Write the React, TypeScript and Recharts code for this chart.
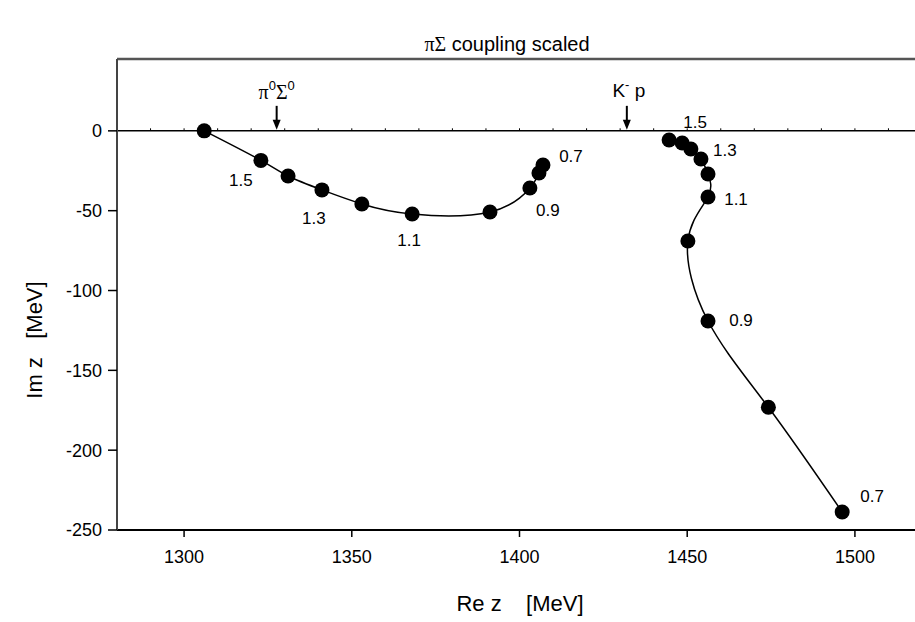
import React from 'react';
import { ComposedChart, Scatter, XAxis, YAxis, ReferenceLine, ReferenceDot } from 'recharts';

interface PolePoint {
  re: number;
  im: number;
  g?: string;
}

// lower pole, starting at the πΣ threshold
const lowerPole: PolePoint[] = [
  { re: 1306.0, im: 0 },
  { re: 1322.9, im: -18.5, g: '1.5' },
  { re: 1331.0, im: -28.3 },
  { re: 1341.1, im: -37.0, g: '1.3' },
  { re: 1353.0, im: -45.8 },
  { re: 1368.0, im: -52.1, g: '1.1' },
  { re: 1391.2, im: -50.8 },
  { re: 1403.1, im: -35.8, g: '0.9' },
  { re: 1405.8, im: -26.4 },
  { re: 1407.0, im: -21.4, g: '0.7' },
];

// upper pole, sliding down from the K̄N threshold
const upperPole: PolePoint[] = [
  { re: 1444.6, im: -5.7, g: '1.5' },
  { re: 1448.5, im: -7.6 },
  { re: 1451.1, im: -11.4, g: '1.3' },
  { re: 1454.1, im: -17.6 },
  { re: 1456.2, im: -27.0 },
  { re: 1456.2, im: -41.4, g: '1.1' },
  { re: 1450.2, im: -69.0 },
  { re: 1456.2, im: -119.1, g: '0.9' },
  { re: 1474.2, im: -173.1 },
  { re: 1496.2, im: -238.7, g: '0.7' },
];

const xTicks = [1300, 1350, 1400, 1450, 1500];
const yTicks = [0, -50, -100, -150, -200, -250];
const zeroLineTicks = [1290, 1300, 1310, 1320, 1330, 1340, 1350, 1360, 1370, 1380, 1390, 1400, 1410, 1420, 1430, 1440, 1450, 1460, 1470, 1480, 1490, 1500, 1510];

const thresholds = [
  { id: 'pi0sigma0', re: 1327.6 },
  { id: 'kminusp', re: 1432.0 },
];

// where each coupling label sits relative to its dot (px)
const lowerLabelOffset: Record<string, [number, number]> = {
  '1.5': [-20, 20],
  '1.3': [-8, 29],
  '1.1': [-3, 26],
  '0.9': [18, 22],
  '0.7': [28, -9],
};
const upperLabelOffset: Record<string, [number, number]> = {
  '1.5': [26, -17],
  '1.3': [34, 1],
  '1.1': [28, 3],
  '0.9': [33, -1],
  '0.7': [30, -15],
};

const SANS = '"Liberation Sans", Arial, sans-serif';
const SERIF = '"Liberation Serif", "DejaVu Serif", serif';

const makeDot = (offsets: Record<string, [number, number]>) => (props: any) => {
  const { cx, cy, payload } = props;
  const off = payload && payload.g ? offsets[payload.g] : null;
  return (
    <g>
      <circle cx={cx} cy={cy} r={7.5} fill="#000" />
      {off && (
        <text
          x={cx + off[0]}
          y={cy + off[1]}
          textAnchor="middle"
          dominantBaseline="central"
          fontSize={17}
          fontFamily={SANS}
          fill="#000"
        >
          {payload.g}
        </text>
      )}
    </g>
  );
};

const ThresholdMark = ({ cx, cy, id }: { cx: number; cy: number; id: string }) => (
  <g>
    <line x1={cx} y1={cy - 25} x2={cx} y2={cy - 9} stroke="#000" strokeWidth={2} />
    <path d={`M${cx - 4},${cy - 11} L${cx + 4},${cy - 11} L${cx},${cy - 1} Z`} fill="#000" />
    {id === 'pi0sigma0' ? (
      <text x={cx} y={cy - 32} textAnchor="middle" fontSize={20} fontFamily={SANS} fill="#000">
        <tspan fontFamily={SERIF}>π</tspan>
        <tspan dy={-9} fontSize={13}>0</tspan>
        <tspan dy={9} fontFamily={SERIF}>Σ</tspan>
        <tspan dy={-9} fontSize={13}>0</tspan>
      </text>
    ) : (
      <text x={cx + 2} y={cy - 34} textAnchor="middle" fontSize={19} fontFamily={SANS} fill="#000">
        K
        <tspan dy={-8} fontSize={13}>-</tspan>
        <tspan dy={8}> p</tspan>
      </text>
    )}
  </g>
);

const PoleTrajectoryChart: React.FC = () => (
  <div
    style={{
      position: 'absolute',
      left: 0,
      top: 0,
      width: 915,
      height: 622,
      overflow: 'hidden',
      background: '#fff',
      fontFamily: SANS,
    }}
  >
    <div
      style={{
        position: 'absolute',
        left: 357,
        width: 300,
        top: 33,
        textAlign: 'center',
        fontSize: 20,
        color: '#000',
        whiteSpace: 'pre',
      }}
    >
      <span style={{ fontFamily: SERIF }}>πΣ</span> coupling scaled
    </div>

    <ComposedChart width={940} height={622} margin={{ top: 59, right: 18, bottom: 52, left: 57 }}>
      <XAxis
        type="number"
        dataKey="re"
        domain={[1280, 1520]}
        ticks={xTicks}
        interval={0}
        allowDataOverflow
        height={40}
        axisLine={{ stroke: '#000', strokeWidth: 2 }}
        tickLine={{ stroke: '#000', strokeWidth: 1.5 }}
        tickSize={7}
        tickMargin={13}
        tick={{ fontSize: 18, fill: '#000', fontFamily: SANS }}
      />
      <YAxis
        type="number"
        dataKey="im"
        domain={[-250, 45]}
        ticks={yTicks}
        interval={0}
        allowDataOverflow
        width={60}
        axisLine={{ stroke: '#444', strokeWidth: 2 }}
        tickLine={{ stroke: '#000', strokeWidth: 1.5 }}
        tickSize={9}
        tickMargin={6}
        tick={{ fontSize: 18, fill: '#000', fontFamily: SANS }}
      />

      <ReferenceLine y={45} stroke="#555" strokeWidth={2.5} />
      <ReferenceLine y={0} stroke="#000" strokeWidth={1.5} />
      {zeroLineTicks.map((v) => (
        <ReferenceLine
          key={v}
          segment={[
            { x: v, y: 0 },
            { x: v, y: 1.6 },
          ]}
          stroke="#000"
          strokeWidth={1}
        />
      ))}

      {thresholds.map((t) => (
        <ReferenceDot
          key={t.id}
          x={t.re}
          y={0}
          shape={(p: any) => <ThresholdMark cx={p.cx} cy={p.cy} id={t.id} />}
        />
      ))}

      <Scatter
        data={lowerPole}
        line={{ stroke: '#000', strokeWidth: 1.5 }}
        lineJointType="natural"
        shape={makeDot(lowerLabelOffset)}
        isAnimationActive={false}
      />
      <Scatter
        data={upperPole}
        line={{ stroke: '#000', strokeWidth: 1.5 }}
        lineJointType="natural"
        shape={makeDot(upperLabelOffset)}
        isAnimationActive={false}
      />
    </ComposedChart>

    <div
      style={{
        position: 'absolute',
        left: 370,
        width: 300,
        top: 591,
        textAlign: 'center',
        fontSize: 22,
        color: '#000',
        whiteSpace: 'pre',
      }}
    >
      Re z    [MeV]
    </div>
    <div
      style={{
        position: 'absolute',
        left: 35 - 100,
        top: 340 - 13,
        width: 200,
        textAlign: 'center',
        fontSize: 22,
        color: '#000',
        whiteSpace: 'pre',
        transform: 'rotate(-90deg)',
      }}
    >
      Im z   [MeV]
    </div>
  </div>
);

export default function App() {
  return <PoleTrajectoryChart />;
}
